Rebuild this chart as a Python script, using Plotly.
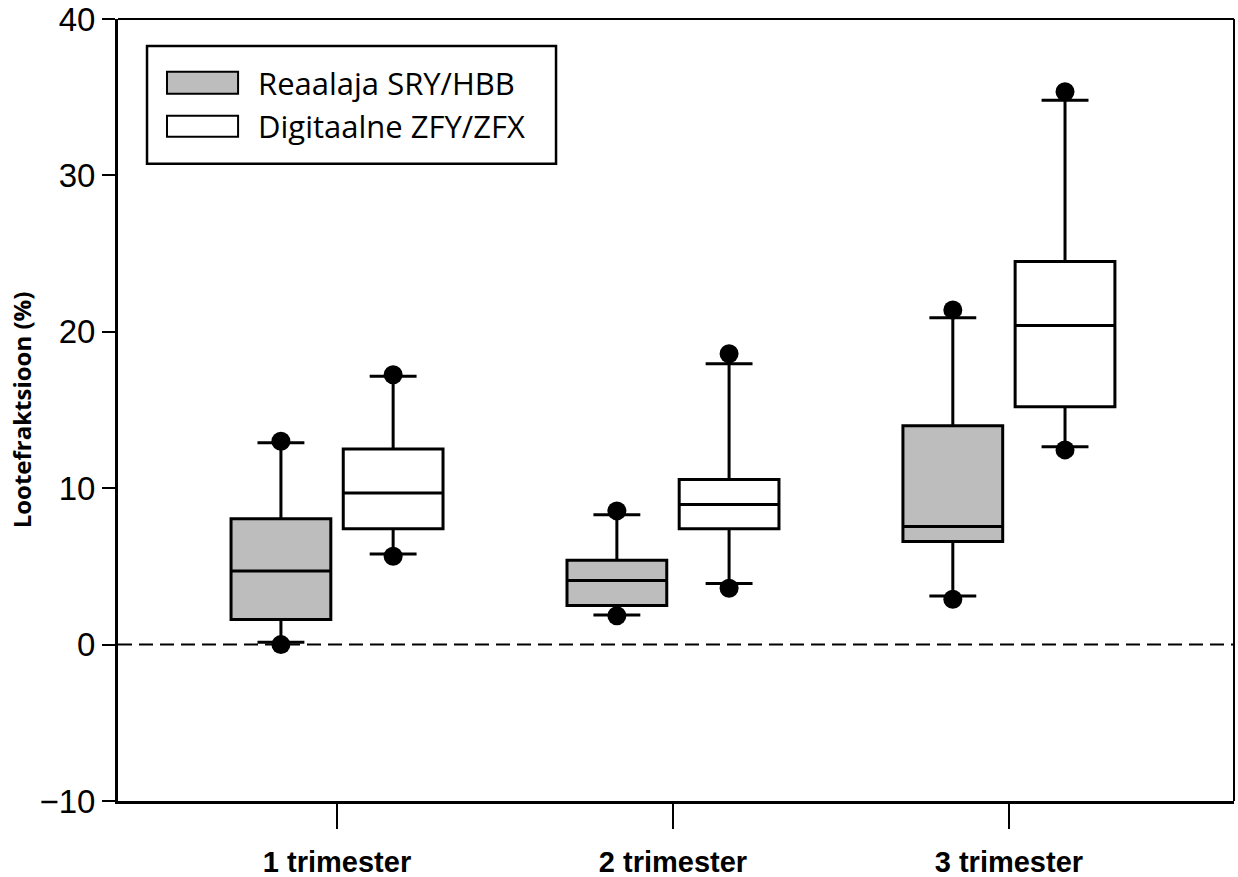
import plotly.graph_objects as go

# ---- data ----
categories = ["1 trimester", "2 trimester", "3 trimester"]
series_names = ["Reaalaja SRY/HBB", "Digitaalne ZFY/ZFX"]

real_q1 = [1.6, 2.5, 6.6]
real_median = [4.7, 4.1, 7.55]
real_q3 = [8.05, 5.4, 14.0]
real_low = [0.15, 1.9, 3.1]
real_high = [12.9, 8.3, 20.9]
real_min = [0.0, 1.85, 2.9]
real_max = [13.0, 8.55, 21.4]

dig_q1 = [7.4, 7.4, 15.2]
dig_median = [9.7, 8.95, 20.4]
dig_q3 = [12.5, 10.55, 24.5]
dig_low = [5.8, 3.9, 12.65]
dig_high = [17.15, 17.95, 34.8]
dig_min = [5.65, 3.6, 12.45]
dig_max = [17.25, 18.6, 35.35]

y_ticks = [-10, 0, 10, 20, 30, 40]

# ---- styling / layout constants ----
GRAY = "#bdbdbd"
OFFSET = 0.167
BOX_W = 0.297
pos = list(range(1, len(categories) + 1))

series = [
    dict(name=series_names[0], fill=GRAY, q1=real_q1, med=real_median, q3=real_q3,
         lo=real_low, hi=real_high, mn=real_min, mx=real_max, off=-OFFSET),
    dict(name=series_names[1], fill="white", q1=dig_q1, med=dig_median, q3=dig_q3,
         lo=dig_low, hi=dig_high, mn=dig_min, mx=dig_max, off=OFFSET),
]

fig = go.Figure()
for s in series:
    xs = [p + s["off"] for p in pos]
    fig.add_trace(go.Box(
        x=xs, q1=s["q1"], median=s["med"], q3=s["q3"],
        lowerfence=s["lo"], upperfence=s["hi"],
        width=BOX_W, whiskerwidth=0.47,
        fillcolor=s["fill"], line=dict(color="black", width=3),
        boxpoints=False, name=s["name"], showlegend=False,
    ))
    fig.add_trace(go.Scatter(
        x=xs + xs, y=s["mn"] + s["mx"], mode="markers",
        marker=dict(color="black", size=19, line=dict(width=0)),
        showlegend=False, hoverinfo="y",
    ))

shapes = [
    # dashed zero line
    dict(type="line", xref="paper", x0=0, x1=1, yref="y", y0=0, y1=0,
         line=dict(color="black", width=2, dash="14px,7px"), layer="below"),
    # top and right frame
    dict(type="line", xref="paper", yref="paper", x0=0, x1=1, y0=1, y1=1,
         line=dict(color="black", width=2)),
    dict(type="line", xref="paper", yref="paper", x0=1, x1=1, y0=0, y1=1,
         line=dict(color="black", width=2)),
    # legend frame
    dict(type="rect", xref="paper", yref="paper", x0=0.026, x1=0.3925, y0=0.815, y1=0.9656,
         line=dict(color="black", width=2.5), fillcolor="white", layer="above"),
]
annotations = []
legend_rows = [(0.9324, 0.9043, 0.9184), (0.8763, 0.8495, 0.8635)]
for s, (ytop, ybot, ymid) in zip(series, legend_rows):
    shapes.append(dict(type="rect", xref="paper", yref="paper", x0=0.0439, x1=0.1076,
                       y0=ybot, y1=ytop, line=dict(color="black", width=2),
                       fillcolor=s["fill"], layer="above"))
    annotations.append(dict(xref="paper", yref="paper", x=0.1236, y=ymid, text=s["name"],
                            showarrow=False, xanchor="left", yanchor="middle",
                            font=dict(family="Open Sans", size=31, color="black")))

fig.update_layout(
    width=1238, height=877,
    margin=dict(l=118, r=4, t=19, b=76, pad=0, autoexpand=False),
    paper_bgcolor="white", plot_bgcolor="white",
    shapes=shapes, annotations=annotations,
    showlegend=False,
)
fig.update_xaxes(
    range=[0.348, 3.67], tickmode="array", tickvals=pos, ticktext=categories,
    ticks="outside", ticklen=25, tickwidth=2, tickcolor="black",
    showline=True, linewidth=3, linecolor="black", automargin=False,
    showgrid=False, zeroline=False, ticklabelstandoff=8,
    tickfont=dict(family="Liberation Sans", size=29, color="black", weight="bold"),
)
fig.update_yaxes(
    range=[-10, 40], tickmode="array", tickvals=y_ticks,
    ticks="outside", ticklen=13, tickwidth=2, tickcolor="black",
    showline=True, linewidth=3, linecolor="black", automargin=False,
    showgrid=False, zeroline=False, ticklabeloverflow="allow",
    tickfont=dict(family="Liberation Sans", size=33, color="black"),
    title=dict(text="Lootefraktsioon (%)", standoff=2,
               font=dict(family="Open Sans", size=24, color="black", weight="bold")),
)

fig.write_html("out.html")
